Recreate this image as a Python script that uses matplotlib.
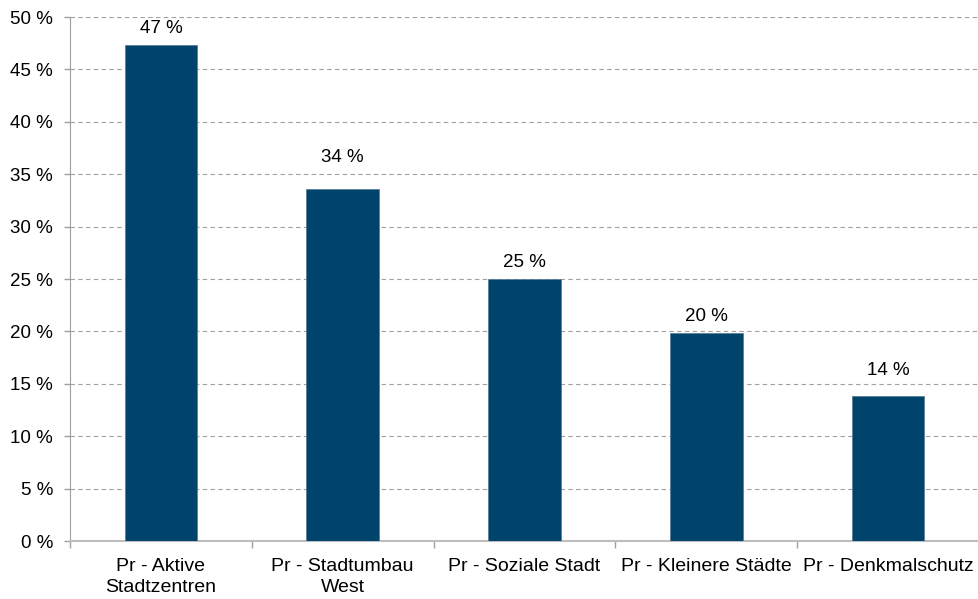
import numpy as np
import matplotlib.pyplot as plt
from matplotlib.ticker import FixedLocator, MultipleLocator

categories = ["Pr - Aktive\nStadtzentren", "Pr - Stadtumbau\nWest", "Pr - Soziale Stadt",
              "Pr - Kleinere Städte", "Pr - Denkmalschutz"]
values = [47.3, 33.6, 25.0, 19.85, 13.8]
labels = ["47 %", "34 %", "25 %", "20 %", "14 %"]
# labels sit higher where they would clash with a gridline
label_offsets = [1.65, 2.95, 1.6, 1.55, 2.5]

plt.rcParams["font.family"] = ["Liberation Sans", "DejaVu Sans"]

fig = plt.figure(figsize=(9.79, 5.99), dpi=100)
ax = fig.add_axes([70 / 979, 58 / 599, 909 / 979, 524 / 599])

x = np.arange(len(categories))
ax.bar(x, values, width=0.4, color="#00436b", edgecolor="#5a7f99", linewidth=0.6, zorder=3)

for xi, v, lab, off in zip(x, values, labels, label_offsets):
    ax.text(xi, v + off, lab, ha="center", va="center", fontsize=13.5, color="#000000")

ax.set_xlim(-0.5, len(categories) - 0.5)
ax.set_ylim(0, 50)
ax.yaxis.set_major_locator(MultipleLocator(5))
ax.set_yticklabels([f"{int(t)} %" for t in ax.get_yticks()], fontsize=13.5)
ax.set_xticks(x)
ax.set_xticklabels(categories, fontsize=14, linespacing=1.3)
ax.xaxis.set_minor_locator(FixedLocator(np.arange(-0.5, len(categories), 1.0)))
ax.tick_params(axis="x", which="major", length=0, pad=12)
ax.tick_params(axis="x", which="minor", length=5, color="#a0a0a0", width=1)
ax.tick_params(axis="y", length=4.3, color="#a0a0a0", width=1, pad=8)

ax.grid(axis="y", linestyle=(0, (4, 3)), color="#a0a0a0", linewidth=0.8, zorder=0)
for s in ["top", "right"]:
    ax.spines[s].set_visible(False)
ax.spines["left"].set_color("#a0a0a0")
ax.spines["bottom"].set_color("#bdbdbd")
ax.spines["bottom"].set_linewidth(1.5)

fig.savefig("out.png", dpi=100)
